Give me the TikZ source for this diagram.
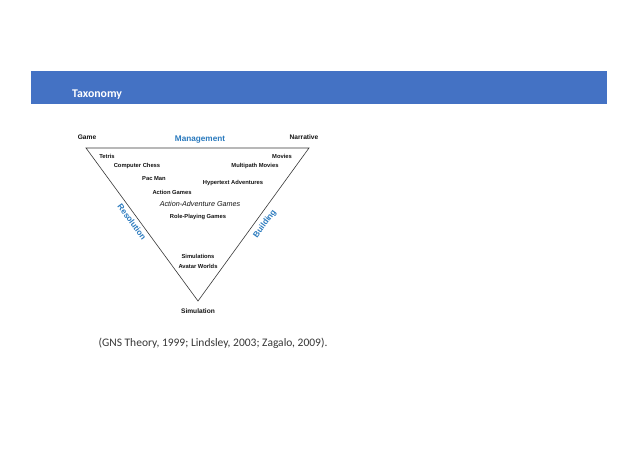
\documentclass[tikz,border=0pt]{standalone}
\usepackage{fontspec}
\setmainfont{Liberation Sans}
\newfontfamily\calfont{Carlito}
\definecolor{banner}{RGB}{68,114,196}
\definecolor{lblue}{RGB}{42,122,190}
\definecolor{ink}{RGB}{20,20,20}
\tikzset{
  lbl/.style={inner sep=0pt, text=ink, font=\bfseries\fontsize{5.8}{6.5}\selectfont},
  corner/.style={inner sep=0pt, text=ink, font=\bfseries\fontsize{6.6}{7.5}\selectfont},
  axis/.style={inner sep=0pt, text=lblue, font=\bfseries\fontsize{8.2}{9}\selectfont},
  edge/.style={draw=ink!85, line width=0.6pt}
}
\begin{document}
\begin{tikzpicture}[x=1pt,y=-1pt]
\useasboundingbox (0,0) rectangle (638,451);
\fill[white] (0,0) rectangle (638,451);
% banner
\fill[banner] (31,71) rectangle (607,104);
\node[anchor=west, inner sep=0pt, text=white, font=\calfont\bfseries\fontsize{11.8}{13}\selectfont] (title) at (72,95) {Taxonomy};
% triangle
\coordinate (A) at (86,148);
\coordinate (B) at (309,148);
\coordinate (C) at (198,301);
\draw[edge] (A) -- (B) -- (C) -- cycle;
% corner labels
\node[corner] (game) at (87,137) {Game};
\node[corner] (narr) at (304,137) {Narrative};
\node[corner] (sim) at (198,311) {Simulation};
% axis labels
\node[axis] (mgmt) at (200,140) {Management};
\node[axis, rotate=-54] (res) at (132,222) {Resolution};
\node[axis, rotate=54] (bld) at (265,224) {Building};
% items
\node[lbl] (tetris) at (107,156) {Tetris};
\node[lbl] (chess) at (137,166) {Computer Chess};
\node[lbl] (pac) at (154,179) {Pac Man};
\node[lbl] (action) at (172,192) {Action Games};
\node[inner sep=0pt, text=ink, font=\itshape\fontsize{7.2}{8}\selectfont] (aag) at (200,204) {Action-Adventure Games};
\node[lbl] (rpg) at (198,217) {Role-Playing Games};
\node[lbl] (movies) at (282,156) {Movies};
\node[lbl] (mpm) at (255,166) {Multipath Movies};
\node[lbl] (hyper) at (233,183) {Hypertext Adventures};
\node[lbl] (sims) at (198,256) {Simulations};
\node[lbl] (avatar) at (198,266) {Avatar Worlds};
% citation
\node[inner sep=0pt, text=ink!85, font=\calfont\fontsize{11.5}{13}\selectfont] (cite) at (213,343) {(GNS Theory, 1999; Lindsley, 2003; Zagalo, 2009).};
\end{tikzpicture}
\end{document}
